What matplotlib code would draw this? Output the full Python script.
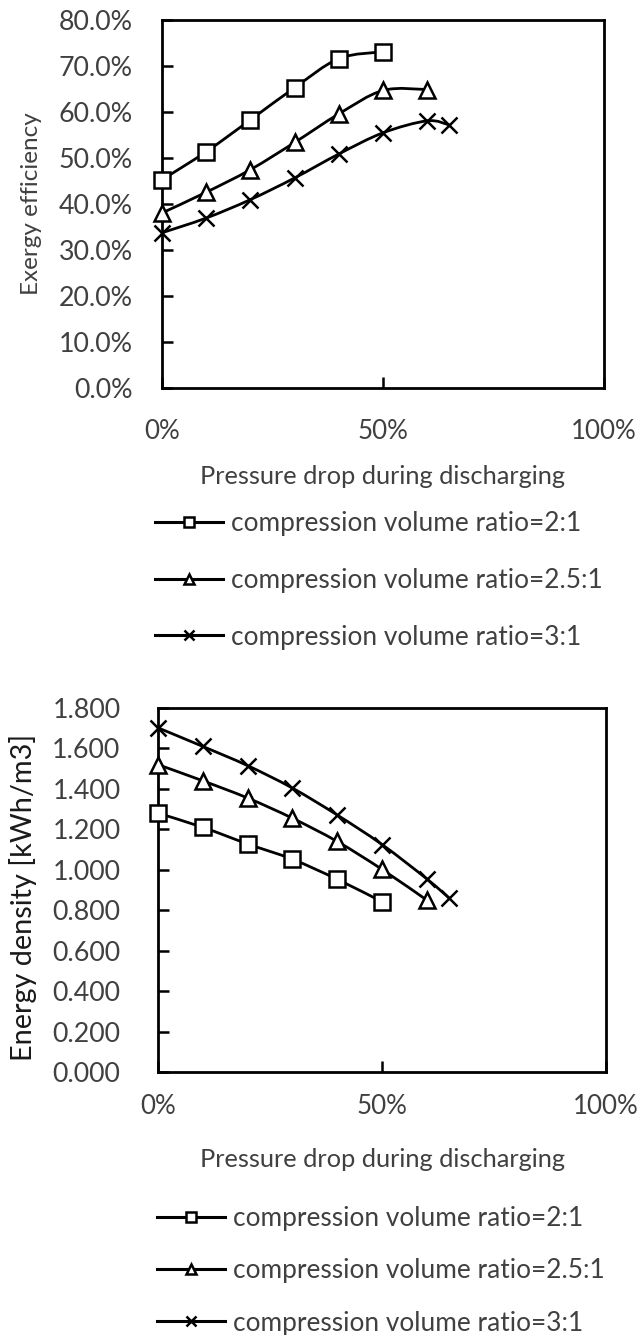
import matplotlib
matplotlib.use("Agg")
import matplotlib.pyplot as plt
import numpy as np
from matplotlib.lines import Line2D
from matplotlib.patches import PathPatch
from matplotlib.path import Path
from matplotlib.ticker import FuncFormatter

plt.rcParams["font.family"] = ["Lato", "DejaVu Sans"]

# ---- data ----
pressure_drop = [0.0, 0.1, 0.2, 0.3, 0.4, 0.5, 0.6, 0.65]
labels = [
    "compression volume ratio=2:1",
    "compression volume ratio=2.5:1",
    "compression volume ratio=3:1",
]
markers = ["s", "^", "x"]

exergy_2 = [0.452, 0.513, 0.582, 0.652, 0.715, 0.730]
exergy_25 = [0.380, 0.425, 0.474, 0.533, 0.595, 0.646, 0.648]
exergy_3 = [0.337, 0.369, 0.409, 0.456, 0.508, 0.554, 0.580, 0.571]

density_2 = [1.280, 1.210, 1.128, 1.052, 0.953, 0.842]
density_25 = [1.520, 1.440, 1.355, 1.255, 1.140, 1.002, 0.850]
density_3 = [1.702, 1.610, 1.515, 1.404, 1.271, 1.125, 0.955, 0.860]

TXT = "#404040"
W, H = 638, 1335


def smooth_path(x, y):
    # Excel-style smoothed line: Catmull-Rom segments as cubic Beziers
    pts = np.column_stack([x, y])
    n = len(pts)
    verts = [pts[0]]
    codes = [Path.MOVETO]
    for i in range(n - 1):
        p0 = pts[max(i - 1, 0)]
        p1 = pts[i]
        p2 = pts[i + 1]
        p3 = pts[min(i + 2, n - 1)]
        verts += [p1 + (p2 - p0) / 6, p2 - (p3 - p1) / 6, p2]
        codes += [Path.CURVE4] * 3
    return Path(verts, codes)


def px_axes(fig, left, top, right, bottom):
    return fig.add_axes([left / W, 1 - bottom / H, (right - left) / W, (bottom - top) / H])


def draw_panel(ax, series, ymax, ystep, yfmt, ylabel, ylabel_size, ylabel_color,
               ypad, xpad, xlabel_y, ylabel_x, ylabel_y, legend_top, legend_left, spacing):
    for vals, m in zip(series, markers):
        xs = pressure_drop[: len(vals)]
        ax.add_patch(PathPatch(smooth_path(xs, vals), fill=False,
                               edgecolor="black", linewidth=2, zorder=2))
        ax.plot(xs, vals, linestyle="none", marker=m, markersize=11.5,
                markerfacecolor="white", markeredgecolor="black",
                markeredgewidth=1.8, zorder=3, clip_on=False)

    ax.set_xlim(0, 1)
    ax.set_ylim(0, ymax)
    ax.set_xticks([0, 0.5, 1])
    ax.set_yticks(np.arange(0, ymax + ystep / 2, ystep))
    ax.xaxis.set_major_formatter(FuncFormatter(lambda v, p: f"{v:.0%}"))
    ax.yaxis.set_major_formatter(FuncFormatter(yfmt))
    ax.tick_params(axis="both", direction="in", length=8, width=1.8,
                   labelcolor=TXT, colors="black")
    ax.tick_params(axis="y", pad=ypad, labelsize=19.3)
    ax.tick_params(axis="x", pad=xpad, labelsize=18.6)
    for s in ax.spines.values():
        s.set_linewidth(2)

    ax.set_xlabel("Pressure drop during discharging", fontsize=18.3, color=TXT)
    ax.xaxis.set_label_coords(0.5, xlabel_y)
    ax.set_ylabel(ylabel, fontsize=ylabel_size, color=ylabel_color, va="center")
    ax.yaxis.set_label_coords(ylabel_x, ylabel_y)

    handles = [
        Line2D([], [], color="black", linewidth=2.2, marker=m, markersize=7.5,
               markerfacecolor="white", markeredgecolor="black", markeredgewidth=1.8)
        for m in markers
    ]
    ax.legend(handles, labels, loc="upper left",
              bbox_to_anchor=(legend_left / W, 1 - legend_top / H),
              bbox_transform=ax.figure.transFigure, frameon=False,
              fontsize=18.9, labelcolor=TXT, handlelength=2.6,
              handletextpad=0.3, labelspacing=spacing, borderpad=0,
              borderaxespad=0)


fig = plt.figure(figsize=(W / 100, H / 100), dpi=100)

ax1 = px_axes(fig, 162, 19.5, 604, 388)
draw_panel(ax1, [exergy_2, exergy_25, exergy_3], 0.8, 0.1,
           lambda v, p: f"{v:.1%}", "Exergy efficiency", 17.5, TXT,
           ypad=21, xpad=22, xlabel_y=-0.21, ylabel_x=-0.296, ylabel_y=0.5,
           legend_top=511, legend_left=155, spacing=1.21)

ax2 = px_axes(fig, 158, 708, 606, 1072)
draw_panel(ax2, [density_2, density_25, density_3], 1.8, 0.2,
           lambda v, p: f"{v:.3f}", "Energy density [kWh/m3]", 20.8, "#1a1a1a",
           ypad=27, xpad=16, xlabel_y=-0.208, ylabel_x=-0.301, ylabel_y=0.48,
           legend_top=1206, legend_left=157, spacing=1.04)

fig.savefig("out.png", dpi=100)
